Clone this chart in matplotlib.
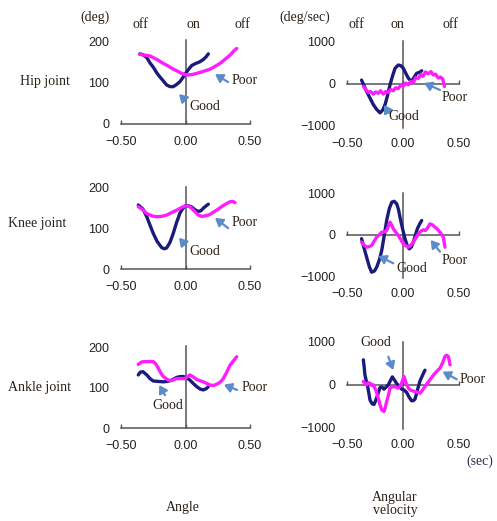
import matplotlib
matplotlib.use("Agg")
import matplotlib.pyplot as plt

# ---------------------------------------------------------------- data
time_ticks = [-0.50, 0.00, 0.50]
time_tick_labels = ["\u22120.50", "0.00", "0.50"]
angle_ticks = [0, 100, 200]
angle_tick_labels = ["0", "100", "200"]
velocity_ticks = [-1000, 0, 1000]
velocity_tick_labels = ["\u22121000", "0", "1000"]

joints = ["Hip joint", "Knee joint", "Ankle joint"]
phase_labels = ["off", "on", "off"]

# Hip joint angle (deg)
hip_t_good = [-0.355, -0.33, -0.30, -0.275, -0.25, -0.22, -0.20, -0.17, -0.146, -0.12, -0.095,
              -0.07, -0.043, -0.02, 0.0, 0.025, 0.048, 0.08, 0.112, 0.14, 0.16, 0.177]
hip_ang_good = [169, 167, 160, 147, 137, 122, 114, 103, 94, 90, 90,
                95, 102, 112, 122, 132, 141, 146, 150, 156, 162, 169]
hip_t_poor = [-0.355, -0.32, -0.275, -0.22, -0.172, -0.13, -0.095, -0.06, -0.03, 0.009,
              0.05, 0.087, 0.13, 0.19, 0.23, 0.267, 0.30, 0.345, 0.375, 0.397]
hip_ang_poor = [168, 166, 164, 155, 146, 139, 132, 127, 122, 118,
                119, 122, 126, 132, 139, 146, 154, 166, 176, 182]

# Knee joint angle (deg)
knee_t_good = [-0.366, -0.33, -0.30, -0.275, -0.25, -0.22, -0.185, -0.165, -0.146, -0.12, -0.095,
               -0.07, -0.043, -0.02, 0.0, 0.025, 0.048, 0.075, 0.1, 0.12, 0.138, 0.16, 0.177]
knee_ang_good = [158, 148, 129, 108, 88, 68, 53, 50, 52, 66, 88,
                 114, 138, 150, 156, 156, 153, 146, 142, 144, 150, 156, 160]
knee_t_poor = [-0.366, -0.33, -0.30, -0.26, -0.223, -0.185, -0.146, -0.11, -0.07, -0.035, -0.003,
               0.025, 0.048, 0.075, 0.1, 0.125, 0.151, 0.185, 0.215, 0.25, 0.28, 0.31, 0.345,
               0.365, 0.384]
knee_ang_poor = [154, 146, 137, 131, 129, 130, 133, 139, 145, 151, 156,
                 155, 150, 141, 133, 130, 131, 134, 140, 147, 154, 160, 166,
                 167, 164]

# Ankle joint angle (deg)
ankle_t_good = [-0.366, -0.35, -0.33, -0.30, -0.275, -0.25, -0.21, -0.172, -0.14, -0.107, -0.068,
                -0.04, -0.017, 0.01, 0.035, 0.06, 0.087, 0.115, 0.138, 0.16, 0.177]
ankle_ang_good = [131, 138, 139, 131, 122, 116, 115, 114, 115, 118, 125,
                  127, 127, 124, 118, 110, 102, 96, 94, 97, 102]
ankle_t_poor = [-0.366, -0.34, -0.314, -0.28, -0.25, -0.23, -0.21, -0.19, -0.172, -0.133, -0.1,
                -0.068, -0.035, -0.003, 0.02, 0.035, 0.06, 0.087, 0.11, 0.138, 0.165, 0.19,
                0.22, 0.254, 0.275, 0.293, 0.32, 0.345, 0.37, 0.397]
ankle_ang_poor = [157, 163, 164, 164, 164, 158, 147, 135, 127, 118, 118,
                  122, 122, 122, 128, 131, 126, 120, 117, 114, 110, 106,
                  105, 110, 115, 122, 138, 155, 165, 176]

# Hip joint angular velocity (deg/sec)
hip_tv_good = [-0.37, -0.35, -0.325, -0.295, -0.265, -0.235, -0.205, -0.18, -0.16, -0.138, -0.116,
               -0.093, -0.071, -0.042, -0.02, 0.003, 0.025, 0.048, 0.077, 0.1, 0.122, 0.145, 0.167]
hip_vel_good = [80, -40, -186, -340, -496, -610, -690, -620, -496, -280, -31,
                180, 358, 435, 420, 358, 240, 124, 47, 150, 240, 260, 300]
hip_tv_poor = [-0.354, -0.33, -0.31, -0.29, -0.265, -0.245, -0.22, -0.2, -0.176, -0.155, -0.13,
               -0.11, -0.087, -0.065, -0.042, -0.02, 0.003, 0.025, 0.048, 0.07, 0.092, 0.115,
               0.137, 0.16, 0.18, 0.2, 0.226, 0.25, 0.27, 0.29, 0.315, 0.335, 0.354, 0.37]
hip_vel_poor = [-70, -150, -210, -190, -250, -200, -230, -170, -250, -190, -210,
                -140, -170, -100, -120, -40, -60, 10, -30, 50, 20, 140,
                120, 210, 170, 270, 230, 280, 200, 220, 130, 150, 110, -70]

# Knee joint angular velocity (deg/sec)
knee_tv_good = [-0.37, -0.35, -0.325, -0.30, -0.28, -0.255, -0.235, -0.21, -0.19, -0.168, -0.146,
                -0.123, -0.1, -0.078, -0.056, -0.04, -0.027, -0.005, 0.018, 0.037, 0.056, 0.075,
                0.092, 0.11, 0.128, 0.15, 0.167]
knee_vel_good = [-100, -300, -547, -780, -908, -880, -788, -600, -386, -30, 337,
                 620, 779, 800, 739, 600, 417, 150, -104, -260, -345, -300,
                 -185, -20, 137, 260, 337]
knee_tv_poor = [-0.37, -0.345, -0.325, -0.30, -0.28, -0.255, -0.235, -0.21, -0.19, -0.168, -0.146,
                -0.13, -0.116, -0.1, -0.087, -0.065, -0.042, -0.02, 0.003, 0.025, 0.048, 0.07,
                0.092, 0.115, 0.137, 0.16, 0.181, 0.2, 0.22, 0.24, 0.263, 0.286, 0.31, 0.33,
                0.345, 0.36, 0.375]
knee_vel_poor = [-185, -260, -305, -290, -265, -150, -64, 0, 56, 60, 96,
                 200, 297, 220, 137, 60, -24, -120, -225, -270, -305, -260,
                 -185, -80, 16, 80, 112, 96, 160, 257, 230, 177, 120, 56,
                 0, -64, -305]

# Ankle joint angular velocity (deg/sec)
ankle_tv_good = [-0.354, -0.347, -0.34, -0.33, -0.318, -0.305, -0.295, -0.277, -0.259, -0.244,
                 -0.229, -0.215, -0.205, -0.188, -0.17, -0.15, -0.131, -0.113, -0.095, -0.075,
                 -0.057, -0.035, -0.012, 0.01, 0.033, 0.055, 0.077, 0.092, 0.107, 0.13, 0.152,
                 0.175, 0.196]
ankle_vel_good = [580, 420, 228, 110, -8, -200, -361, -450, -470, -380,
                  -267, -150, -71, -60, -110, -60, -8, 90, 180, 100,
                  24, -40, -110, -130, -188, -300, -384, -380, -345, -120, 86,
                  220, 337]
ankle_tv_poor = [-0.354, -0.34, -0.325, -0.31, -0.295, -0.28, -0.265, -0.24, -0.22, -0.205,
                 -0.19, -0.17, -0.158, -0.146, -0.13, -0.116, -0.1, -0.087, -0.065, -0.042,
                 -0.02, 0.009, 0.02, 0.033, 0.048, 0.062, 0.085, 0.107, 0.13, 0.152, 0.175,
                 0.196, 0.218, 0.24, 0.263, 0.286, 0.31, 0.33, 0.352, 0.375, 0.39, 0.405, 0.42]
ankle_vel_poor = [71, 20, -8, 40, 31, -20, -8, -150, -322, -480,
                  -596, -635, -540, -400, -250, -86, -60, -47, -60, -86,
                  -20, 188, 100, -8, -80, -125, -150, -165, -185, -204, -130,
                  -47, 30, 110, 190, 267, 330, 384, 500, 659, 690, 659, 463]

angle_series = [
    (hip_t_good, hip_ang_good, hip_t_poor, hip_ang_poor),
    (knee_t_good, knee_ang_good, knee_t_poor, knee_ang_poor),
    (ankle_t_good, ankle_ang_good, ankle_t_poor, ankle_ang_poor),
]
velocity_series = [
    (hip_tv_good, hip_vel_good, hip_tv_poor, hip_vel_poor),
    (knee_tv_good, knee_vel_good, knee_tv_poor, knee_vel_poor),
    (ankle_tv_good, ankle_vel_good, ankle_tv_poor, ankle_vel_poor),
]

# "Good"/"Poor" callouts: (label, text position, arrow tail, arrow head) in data units
angle_notes = [
    [("Poor", (0.36, 106), (0.33, 101), (0.229, 120)),
     ("Good", (0.027, 41), (-0.004, 58), (-0.05, 72))],
    [("Poor", (0.36, 114), (0.33, 101), (0.229, 126)),
     ("Good", (0.027, 42), (0.0, 59), (-0.05, 77))],
    [("Good", (-0.254, 55), (-0.159, 81), (-0.203, 106)),
     ("Poor", (0.438, 99), (0.40, 94), (0.298, 107))],
]
velocity_notes = [
    [("Poor", (0.345, -341), (0.33, -153), (0.1875, 12)),
     ("Good", (-0.131, -781), (-0.125, -694), (-0.17, -506))],
    [("Good", (-0.0625, -831), (-0.087, -694), (-0.22, -518)),
     ("Poor", (0.345, -631), (0.33, -414), (0.247, -133))],
    [("Good", (-0.384, 984), (-0.131, 654), (-0.087, 341)),
     ("Poor", (0.503, 122), (0.48, 122), (0.354, 301))],
]

# ---------------------------------------------------------------- style
W, H = 497, 521
NAVY = "#1b1b7c"
MAGENTA = "#ff1cff"
ARROW = "#5b8bc8"
AXIS = "#555555"
TXT = "#2b2118"
SERIF = "Liberation Serif"
SANS = "Liberation Sans"

fig = plt.figure(figsize=(W / 100, H / 100), dpi=100)
fig.patch.set_facecolor("white")


def px_axes(x0, x1, ytop, ybot):
    return fig.add_axes([x0 / W, 1 - ybot / H, (x1 - x0) / W, (ybot - ytop) / H])


def fig_text(x, y, s, **kw):
    kw.setdefault("family", SERIF)
    kw.setdefault("fontsize", 10)
    kw.setdefault("color", TXT)
    fig.text(x / W, 1 - y / H, s, ha=kw.pop("ha", "center"), va=kw.pop("va", "center"), **kw)


def setup(ax, ylim, yticks, ylabels, vbounds):
    ax.set_xlim(-0.5, 0.5)
    ax.set_ylim(*ylim)
    ax.patch.set_visible(False)
    for side in ("top", "right"):
        ax.spines[side].set_visible(False)
    ax.spines["bottom"].set_position(("data", 0))
    ax.spines["left"].set_position(("data", 0))
    ax.spines["left"].set_bounds(*vbounds)
    for side in ("bottom", "left"):
        ax.spines[side].set_color(AXIS)
        ax.spines[side].set_linewidth(1.1)
    ax.set_xticks(time_ticks)
    ax.tick_params(axis="x", direction="in", length=3, width=1, color=AXIS, labelbottom=False)
    ax.tick_params(axis="y", left=False, labelleft=False)
    ax.set_yticks([])

    sx = ax.secondary_xaxis("bottom")
    sx.set_xticks(time_ticks, time_tick_labels)
    for sp in sx.spines.values():
        sp.set_visible(False)
    sx.tick_params(length=0, pad=8.5, labelsize=9, labelcolor="#222222")
    for lab in sx.get_xticklabels():
        lab.set_family(SANS)

    sy = ax.secondary_yaxis("left")
    sy.set_yticks(yticks, ylabels)
    for sp in sy.spines.values():
        sp.set_visible(False)
    sy.tick_params(length=0, pad=8.5, labelsize=9, labelcolor="#222222")
    for lab in sy.get_yticklabels():
        lab.set_family(SANS)


def draw(ax, series, notes):
    tg, yg, tp, yp = series
    ax.plot(tg, yg, color=NAVY, lw=2.4, solid_capstyle="round", solid_joinstyle="round",
            clip_on=False, zorder=3)
    ax.plot(tp, yp, color=MAGENTA, lw=2.4, solid_capstyle="round", solid_joinstyle="round",
            clip_on=False, zorder=4)
    for label, tpos, tail, head in notes:
        ax.annotate("", xy=head, xytext=tail,
                    arrowprops=dict(arrowstyle="-|>,head_length=0.45,head_width=0.28",
                                    color=ARROW, lw=1.6, shrinkA=0, shrinkB=0),
                    annotation_clip=False, zorder=5)
        ax.text(tpos[0], tpos[1], label, ha="left", va="center", fontsize=10,
                family=SERIF, color=TXT, clip_on=False, zorder=6)


angle_rows = [(41, 124), (188, 269), (347, 428)]
velocity_rows = [(41, 126), (193, 276), (342, 427)]

for i in range(3):
    axa = px_axes(121, 250, *angle_rows[i])
    setup(axa, (0, 200), angle_ticks, angle_tick_labels, (0, 203))
    draw(axa, angle_series[i], angle_notes[i])

    axv = px_axes(347, 459, *velocity_rows[i])
    setup(axv, (-1000, 1000), velocity_ticks, velocity_tick_labels, (-1040, 1000))
    draw(axv, velocity_series[i], velocity_notes[i])

# units and stance phase markers
fig_text(95, 17, "(deg)")
fig_text(305, 17, "(deg/sec)")
for x, s in zip([140, 193, 242], phase_labels):
    fig_text(x, 25, s)
for x, s in zip([356, 397, 450], phase_labels):
    fig_text(x, 25, s)

# joint names
fig_text(20, 82, joints[0], ha="left")
fig_text(8, 223, joints[1], ha="left")
fig_text(8, 388, joints[2], ha="left")

# column titles
fig_text(480, 461, "(sec)", color="#2a3050")
fig_text(183, 507, "Angle")
fig_text(395, 504, "Angular\nvelocity", linespacing=1.05)

fig.savefig("out.png", dpi=100, facecolor="white")
